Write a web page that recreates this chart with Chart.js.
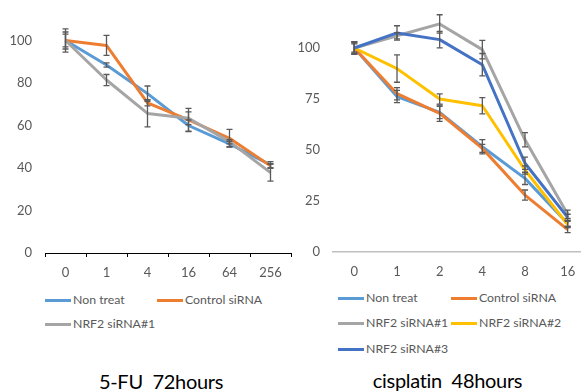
<!DOCTYPE html>
<html>
<head>
<meta charset="utf-8">
<script src="https://cdn.jsdelivr.net/npm/chart.js@4/dist/chart.umd.min.js"></script>
<style>
  html, body { margin: 0; padding: 0; overflow: hidden; background: #fff; }
  body { width: 581px; height: 392px; position: relative; font-family: Lato, sans-serif; }
  .box { position: absolute; }
  .item { position: absolute; white-space: nowrap; display: flex; align-items: center;
          font-size: 12.3px; line-height: 16px; color: #595959; }
  .item i { display: inline-block; width: 26px; height: 3px; margin-right: 2px; }
  .title { position: absolute; font-size: 20px; line-height: 22px; color: #000;
           letter-spacing: -0.3px; white-space: pre; text-align: center; }
</style>
</head>
<body>
<div class="box" style="left:0;top:-12px;width:300px;height:295px"><canvas id="chart5fu"></canvas></div>
<div class="box" style="left:290px;top:-13px;width:310px;height:295px"><canvas id="chartCis"></canvas></div>
<div id="legend5fu"></div>
<div id="legendCis"></div>
<div class="title" style="left:0;top:370px;width:322px">5-FU  72hours</div>
<div class="title" style="left:347px;top:369px;width:201px">cisplatin  48hours</div>

<script>
// ---- 5-FU 72 hours ----
const doses5fu = ["0", "1", "4", "16", "64", "256"];
const nonTreat5fu = [100, 88.5, 75, 60, 51.3, 41.5];
const nonTreat5fuErr = [3, 1, 3.6, 2.6, 1.3, 1.5];
const control5fu = [100, 97.7, 70.7, 62.6, 54, 41];
const control5fuErr = [5.5, 4.7, 1.5, 5.5, 4.2, 1];
const nrf1_5fu = [100, 81.4, 65.7, 63.4, 52.4, 37.8];
const nrf1_5fuErr = [4, 2.6, 6.3, 3, 1, 4];

// ---- cisplatin 48 hours ----
const dosesCis = ["0", "1", "2", "4", "8", "16"];
const nonTreatCis = [100, 76.2, 68.4, 51.6, 36.1, 14];
const nonTreatCisErr = [3, 3, 3, 3.5, 3, 1.5];
const controlCis = [100, 77.6, 68, 50.8, 27.9, 11];
const controlCisErr = [2.5, 3, 4, 2, 2.5, 1.5];
const nrf1Cis = [100, 106, 111.8, 99.2, 55, 18.5];
const nrf1CisErr = [3, 1.5, 4.5, 4.5, 3.5, 2];
const nrf2Cis = [100, 89.9, 75, 71.7, 40.2, 13.5];
const nrf2CisErr = [3, 6.7, 2.5, 4, 2, 1.5];
const nrf3Cis = [100, 107.4, 104.1, 91.8, 43.5, 17];
const nrf3CisErr = [2, 3.5, 4, 5.5, 3, 1.5];

const seriesNames = ["Non treat", "Control siRNA", "NRF2 siRNA#1", "NRF2 siRNA#2", "NRF2 siRNA#3"];
const seriesColors = ["#5B9BD5", "#ED7D31", "#A5A5A5", "#FFC000", "#4472C4"];

Chart.defaults.font.family = "Lato, sans-serif";
Chart.defaults.color = "#595959";

// error bars drawn on top of the lines, using the chart scales
const errorBars = {
  id: "errorBars",
  afterDatasetsDraw(chart) {
    const { ctx, scales } = chart;
    ctx.save();
    ctx.strokeStyle = "#595959";
    ctx.lineWidth = 1.3;
    chart.data.datasets.forEach((ds) => {
      ds.errors.forEach((e, i) => {
        const px = scales.x.getPixelForValue(i);
        const top = scales.y.getPixelForValue(ds.data[i] + e);
        const bot = scales.y.getPixelForValue(ds.data[i] - e);
        ctx.beginPath();
        ctx.moveTo(px, top); ctx.lineTo(px, bot);
        ctx.moveTo(px - 3, top); ctx.lineTo(px + 3, top);
        ctx.moveTo(px - 3, bot); ctx.lineTo(px + 3, bot);
        ctx.stroke();
      });
    });
    ctx.restore();
  },
};

function makeSets(values, errs) {
  return values.map((v, i) => ({
    label: seriesNames[i],
    data: v,
    errors: errs[i],
    borderColor: seriesColors[i],
    backgroundColor: seriesColors[i],
    borderWidth: 3,
    pointRadius: 0,
    tension: 0,
    borderJoinStyle: "round",
    order: values.length - i, // last series on top, like Excel
  }));
}

function makeChart(id, labels, sets, yMax, step, yWidth, padTop, padRight, xAxisTicks) {
  return new Chart(document.getElementById(id), {
    type: "line",
    data: { labels: labels, datasets: sets },
    plugins: [errorBars],
    options: {
      responsive: true,
      maintainAspectRatio: false,
      animation: false,
      layout: { padding: { top: padTop, right: padRight, bottom: 0, left: 0 } },
      plugins: { legend: { display: false }, tooltip: { enabled: false } },
      scales: {
        x: {
          offset: true,
          grid: xAxisTicks
            ? { display: true, drawOnChartArea: false, tickLength: 4, color: "#000", offset: true }
            : { display: false, drawTicks: false },
          border: xAxisTicks ? { color: "#000", width: 1 } : { color: "#BFBFBF", width: 1.5 },
          ticks: { padding: xAxisTicks ? 8 : 12, font: { size: 13 }, maxRotation: 0 },
          afterFit: (s) => { s.height = 30; },
        },
        y: {
          min: 0,
          max: yMax,
          grid: { display: false, drawTicks: false },
          border: { display: false },
          ticks: {
            stepSize: step,
            padding: 13,
            font: { size: 13 },
            callback: (v) => (v > 100 ? "" : v),
          },
          afterFit: (s) => {
            s.width = yWidth;
            s.paddingTop = 0;
            s.paddingBottom = 0;
          },
        },
      },
    },
  });
}

makeChart("chart5fu", doses5fu,
  makeSets([nonTreat5fu, control5fu, nrf1_5fu], [nonTreat5fuErr, control5fuErr, nrf1_5fuErr]),
  120, 20, 45, 10, 9, true);

makeChart("chartCis", dosesCis,
  makeSets([nonTreatCis, controlCis, nrf1Cis, nrf2Cis, nrf3Cis],
           [nonTreatCisErr, controlCisErr, nrf1CisErr, nrf2CisErr, nrf3CisErr]),
  125, 25, 43, 10, 11, false);

// legends laid out in two columns like the original
function makeLegend(id, count, x0, colGap, rowTops) {
  const el = document.getElementById(id);
  for (let i = 0; i < count; i++) {
    const d = document.createElement("div");
    d.className = "item";
    d.style.left = (x0 + (i % 2) * colGap) + "px";
    d.style.top = rowTops[Math.floor(i / 2)] + "px";
    d.innerHTML = '<i style="background:' + seriesColors[i] + '"></i>' + seriesNames[i];
    el.appendChild(d);
  }
}
makeLegend("legend5fu", 3, 45, 112, [292, 316]);
makeLegend("legendCis", 5, 338, 113, [290, 315, 341]);
</script>
</body>
</html>
